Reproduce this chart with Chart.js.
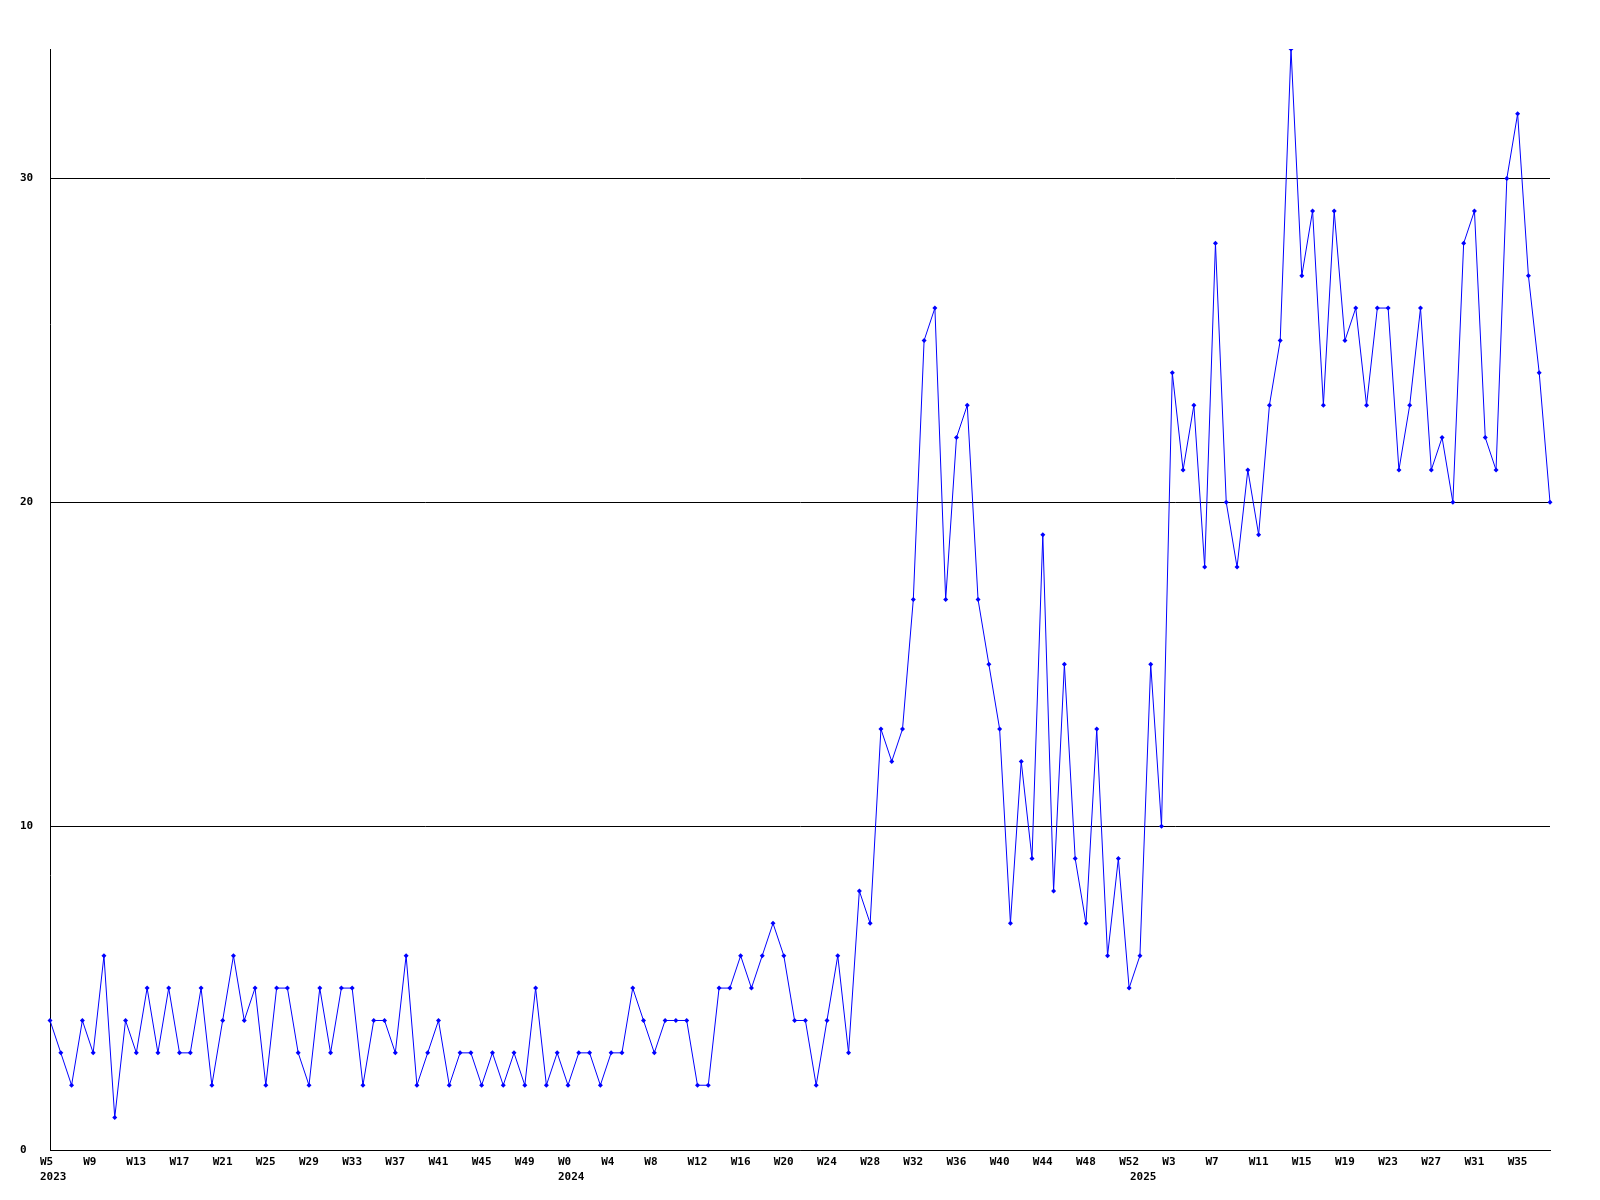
<!DOCTYPE html>
<html>
<head>
<meta charset="utf-8">
<title>Weekly counts</title>
<script src="https://cdn.jsdelivr.net/npm/chart.js@4/dist/chart.umd.min.js"></script>
<style>
  body { margin: 0; background: #fff; }
  canvas { display: block; }
</style>
</head>
<body>
<canvas id="chart" width="1600" height="1200"></canvas>
<script>
// Categories: one entry per week (year-week)
const categories = [
  '2023-W5','2023-W6','2023-W7','2023-W8','2023-W9','2023-W10','2023-W11','2023-W12','2023-W13','2023-W14',
  '2023-W15','2023-W16','2023-W17','2023-W18','2023-W19','2023-W20','2023-W21','2023-W22','2023-W23','2023-W24',
  '2023-W25','2023-W26','2023-W27','2023-W28','2023-W29','2023-W30','2023-W31','2023-W32','2023-W33','2023-W34',
  '2023-W35','2023-W36','2023-W37','2023-W38','2023-W39','2023-W40','2023-W41','2023-W42','2023-W43','2023-W44',
  '2023-W45','2023-W46','2023-W47','2023-W48','2023-W49','2023-W50','2023-W51','2023-W52',
  '2024-W0','2024-W1','2024-W2','2024-W3','2024-W4','2024-W5','2024-W6','2024-W7','2024-W8','2024-W9',
  '2024-W10','2024-W11','2024-W12','2024-W13','2024-W14','2024-W15','2024-W16','2024-W17','2024-W18','2024-W19',
  '2024-W20','2024-W21','2024-W22','2024-W23','2024-W24','2024-W25','2024-W26','2024-W27','2024-W28','2024-W29',
  '2024-W30','2024-W31','2024-W32','2024-W33','2024-W34','2024-W35','2024-W36','2024-W37','2024-W38','2024-W39',
  '2024-W40','2024-W41','2024-W42','2024-W43','2024-W44','2024-W45','2024-W46','2024-W47','2024-W48','2024-W49',
  '2024-W50','2024-W51','2024-W52',
  '2025-W0','2025-W1','2025-W2','2025-W3','2025-W4','2025-W5','2025-W6','2025-W7','2025-W8','2025-W9',
  '2025-W10','2025-W11','2025-W12','2025-W13','2025-W14','2025-W15','2025-W16','2025-W17','2025-W18','2025-W19',
  '2025-W20','2025-W21','2025-W22','2025-W23','2025-W24','2025-W25','2025-W26','2025-W27','2025-W28','2025-W29',
  '2025-W30','2025-W31','2025-W32','2025-W33','2025-W34','2025-W35','2025-W36','2025-W37','2025-W38'
];

// Weekly values
const counts = [
  4, 3, 2, 4, 3, 6, 1, 4, 3, 5,
  3, 5, 3, 3, 5, 2, 4, 6, 4, 5,
  2, 5, 5, 3, 2, 5, 3, 5, 5, 2,
  4, 4, 3, 6, 2, 3, 4, 2, 3, 3,
  2, 3, 2, 3, 2, 5, 2, 3, 2, 3,
  3, 2, 3, 3, 5, 4, 3, 4, 4, 4,
  2, 2, 5, 5, 6, 5, 6, 7, 6, 4,
  4, 2, 4, 6, 3, 8, 7, 13, 12, 13,
  17, 25, 26, 17, 22, 23, 17, 15, 13, 7,
  12, 9, 19, 8, 15, 9, 7, 13, 6, 9,
  5, 6, 15, 10, 24, 21, 23, 18, 28, 20,
  18, 21, 19, 23, 25, 34, 27, 29, 23, 29,
  25, 26, 23, 26, 26, 21, 23, 26, 21, 22,
  20, 28, 29, 22, 21, 30, 32, 27, 24, 20
];

// Axis settings
const yTicks = [0, 10, 20, 30];
const yMax = 34;
const labelEvery = 4;

const tickFont = { family: '"DejaVu Sans Mono", monospace', size: 11, weight: 'bold', lineHeight: 15 / 11 };

function xLabel(index) {
  const [year, week] = categories[index].split('-');
  const prevYear = index > 0 ? categories[index - 1].split('-')[0] : null;
  const weekText = index % labelEvery === 0 ? week : '';
  if (year !== prevYear) {
    return [weekText, year];
  }
  return weekText;
}

const ctx = document.getElementById('chart').getContext('2d');
new Chart(ctx, {
  type: 'line',
  data: {
    labels: categories,
    datasets: [{
      data: counts,
      borderColor: '#0000ff',
      backgroundColor: '#0000ff',
      borderWidth: 1,
      tension: 0,
      fill: false,
      pointStyle: 'rectRot',
      pointRadius: 2.5,
      pointBorderWidth: 0,
      pointBackgroundColor: '#0000ff'
    }]
  },
  options: {
    responsive: false,
    animation: false,
    devicePixelRatio: 1,
    layout: { padding: { top: 49, right: 50, bottom: 0, left: 20 } },
    plugins: {
      legend: { display: false },
      tooltip: { enabled: false }
    },
    scales: {
      x: {
        offset: false,
        grid: { display: false, drawTicks: false, tickLength: 0 },
        border: { display: true, color: '#000', width: 1 },
        ticks: {
          autoSkip: false,
          maxRotation: 0,
          minRotation: 0,
          align: 'start',
          labelOffset: -10,
          padding: 5,
          color: '#000',
          font: tickFont,
          callback: (value, index) => xLabel(index)
        },
        afterFit: (scale) => { scale.height = 50; }
      },
      y: {
        min: 0,
        max: yMax,
        grid: { color: '#000', lineWidth: 1, drawTicks: false, tickLength: 0 },
        border: { display: true, color: '#000', width: 1 },
        ticks: {
          includeBounds: false,
          crossAlign: 'far',
          color: '#000',
          font: tickFont,
          padding: 0
        },
        afterBuildTicks: (scale) => { scale.ticks = yTicks.map(v => ({ value: v })); },
        afterFit: (scale) => { scale.width = 30; }
      }
    }
  }
});
</script>
</body>
</html>
